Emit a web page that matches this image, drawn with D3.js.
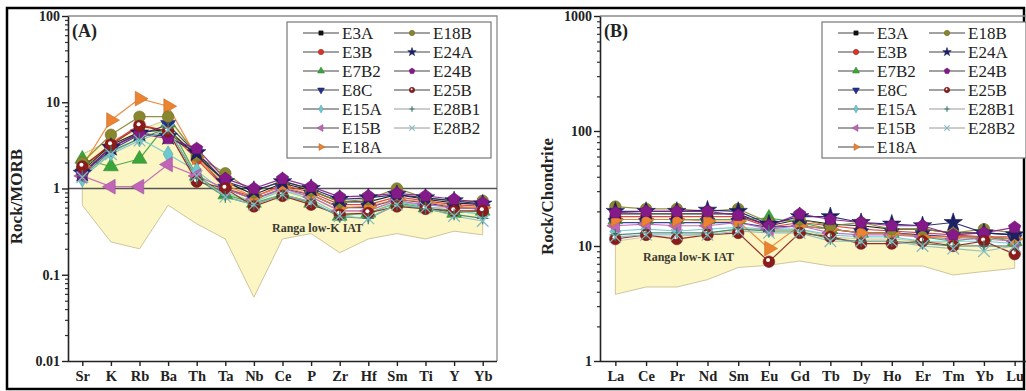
<!DOCTYPE html>
<html>
<head>
<meta charset="utf-8">
<script src="https://cdn.jsdelivr.net/npm/d3@7"></script>
<style>
body { margin: 0; background: #fff; }
svg { display: block; }
text { font-family: "Liberation Serif", "Times New Roman", serif; }
</style>
</head>
<body>
<script>
// element lists
const elemA = ["Sr", "K", "Rb", "Ba", "Th", "Ta", "Nb", "Ce", "P", "Zr", "Hf", "Sm", "Ti", "Y", "Yb"]
const elemB = ["La", "Ce", "Pr", "Nd", "Sm", "Eu", "Gd", "Tb", "Dy", "Ho", "Er", "Tm", "Yb", "Lu"]

const samples = ["E3A", "E3B", "E7B2", "E8C", "E15A", "E15B", "E18A", "E18B", "E24A", "E24B", "E25B", "E28B1", "E28B2"]

// Rock/MORB values (one array per sample, order of elemA)
const morbE3A   = [1.6, 3.2, 4.5, 4.8, 2.4, 1.2, 0.85, 1.15, 0.95, 0.7, 0.7, 0.85, 0.75, 0.68, 0.65]
const morbE3B   = [1.7, 3.3, 5.5, 4.6, 2.2, 1.0, 0.8, 1.1, 0.9, 0.65, 0.65, 0.8, 0.72, 0.65, 0.62]
const morbE7B2  = [2.2, 1.8, 2.2, 5.8, 1.4, 0.85, 0.68, 0.85, 0.68, 0.48, 0.52, 0.68, 0.6, 0.52, 0.55]
const morbE8C   = [1.5, 2.8, 4.2, 5.5, 2.5, 1.0, 0.75, 1.0, 0.85, 0.6, 0.6, 0.75, 0.68, 0.6, 0.58]
const morbE15A  = [1.3, 2.6, 3.8, 2.5, 1.6, 0.9, 0.7, 0.95, 0.75, 0.5, 0.5, 0.7, 0.62, 0.55, 0.5]
const morbE15B  = [1.4, 1.05, 1.05, 1.9, 1.4, 1.0, 0.75, 1.0, 0.8, 0.55, 0.55, 0.72, 0.65, 0.6, 0.58]
const morbE18A  = [1.8, 6.2, 11, 9.0, 2.3, 1.1, 0.8, 1.05, 0.85, 0.6, 0.62, 0.75, 0.7, 0.62, 0.6]
const morbE18B  = [2.0, 4.2, 6.8, 6.8, 2.4, 1.5, 0.9, 1.25, 0.95, 0.7, 0.75, 1.0, 0.78, 0.72, 0.72]
const morbE24A  = [1.5, 3.0, 4.4, 4.0, 2.6, 1.2, 0.95, 1.2, 1.0, 0.75, 0.78, 0.85, 0.78, 0.72, 0.66]
const morbE24B  = [1.45, 3.0, 4.3, 3.8, 2.9, 1.3, 1.0, 1.3, 1.05, 0.8, 0.82, 0.88, 0.82, 0.75, 0.68]
const morbE25B  = [1.8, 3.2, 5.3, 4.6, 1.2, 1.0, 0.62, 0.82, 0.65, 0.5, 0.52, 0.62, 0.58, 0.55, 0.55]
const morbE28B1 = [1.4, 2.7, 3.8, 5.0, 1.3, 0.8, 0.65, 0.85, 0.7, 0.47, 0.45, 0.65, 0.58, 0.5, 0.45]
const morbE28B2 = [1.35, 2.5, 3.6, 4.8, 1.4, 0.8, 0.65, 0.85, 0.7, 0.48, 0.45, 0.65, 0.6, 0.48, 0.42]

// Rock/Chondrite values (order of elemB)
const chonE3A   = [19, 19, 19, 19, 19, 15, 17, 15.5, 15, 14, 14, 13, 13, 12.5]
const chonE3B   = [18, 18, 18, 18, 18, 14.5, 16, 15, 14, 13.5, 13, 12.5, 12, 12]
const chonE7B2  = [17, 17, 17, 17, 17, 17.5, 16, 14, 13, 13, 12, 11, 12, 11]
const chonE8C   = [16, 16, 16, 16, 16, 14.5, 15, 14, 13, 13, 12.5, 12, 12, 11.5]
const chonE15A  = [13.5, 14, 13.5, 14, 14.5, 14, 14, 12.5, 12, 12, 11, 11, 11, 10.5]
const chonE15B  = [15, 15.5, 15, 15, 16, 14, 15, 13, 12.5, 12.5, 12, 11.5, 11.5, 11]
const chonE18A  = [17, 17, 17, 16.5, 16.5, 9.5, 15, 14, 13, 13, 12, 12, 12, 11.5]
const chonE18B  = [22, 21, 21, 20, 21, 16, 17, 15, 16, 14, 14, 13, 14, 13]
const chonE24A  = [20, 20, 20, 20.5, 20, 15.5, 18, 18, 16, 15.5, 15, 16, 13, 12.5]
const chonE24B  = [19.5, 20, 20, 20, 18.5, 15, 19, 17, 16, 15, 15, 12.5, 13, 14.5]
const chonE25B  = [11.5, 12.5, 11.5, 12.5, 13, 7.3, 13, 12, 10.5, 10.5, 11, 10, 11, 8.5]
const chonE28B1 = [12.5, 13, 13, 13, 14, 13.5, 13.5, 11.5, 11, 11, 10.5, 10, 10, 10]
const chonE28B2 = [12, 12.5, 12.5, 12.5, 13.5, 13, 13, 11, 11, 11, 10, 9.5, 9, 10]

// Ranga low-K IAT field (upper / lower edges)
const fieldAHi = [2.5, 3.6, 4.8, 6.3, 2.6, 1.3, 0.75, 0.95, 0.8, 0.55, 0.55, 0.75, 0.6, 0.6, 0.6]
const fieldALo = [0.64, 0.24, 0.2, 0.64, 0.39, 0.26, 0.055, 0.26, 0.3, 0.18, 0.26, 0.3, 0.26, 0.32, 0.29]
const fieldBHi = [11, 12, 12, 13, 14, 14, 14, 12, 11.5, 11.5, 11, 10.5, 10, 10]
const fieldBLo = [3.8, 4.4, 4.4, 5.1, 6.5, 6.8, 7.4, 6.7, 6.7, 6.7, 6.7, 5.6, 6.0, 6.4]

const ticksA = [0.01, 0.1, 1, 10, 100]
const ticksB = [1, 10, 100, 1000]

const morb = [morbE3A, morbE3B, morbE7B2, morbE8C, morbE15A, morbE15B, morbE18A, morbE18B, morbE24A, morbE24B, morbE25B, morbE28B1, morbE28B2]
const chon = [chonE3A, chonE3B, chonE7B2, chonE8C, chonE15A, chonE15B, chonE18A, chonE18B, chonE24A, chonE24B, chonE25B, chonE28B1, chonE28B2]

const colors = ["#111111", "#d9342b", "#3aa63a", "#23308a", "#6cc9cf", "#c065b8", "#ec8330",
                "#88862e", "#1b1f66", "#84198a", "#8a1c1c", "#3f7f68", "#86b9c2"]
const shapes = ["square", "circle", "tri", "triDown", "diamond", "triLeft", "triRight",
                "circle", "star", "pent", "ball", "plus", "cross"]

const W = 1026, H = 391
const serif = "'Liberation Serif', 'Times New Roman', serif"

const svg = d3.select("body").append("svg")
    .attr("width", W)
    .attr("height", H)

// outer black frame
svg.append("rect")
    .attr("x", 7).attr("y", 8)
    .attr("width", 1017).attr("height", 381)
    .attr("fill", "none")
    .attr("stroke", "#000")
    .attr("stroke-width", 2.5)

function markerPath(shape, area) {
    const r = Math.sqrt(area / Math.PI)
    if (shape === "square") return d3.symbol(d3.symbolSquare, area * 0.8)()
    if (shape === "circle" || shape === "ball") return d3.symbol(d3.symbolCircle, area)()
    if (shape.startsWith("tri")) return d3.symbol(d3.symbolTriangle, area * 0.9)()
    if (shape === "diamond") return d3.symbol(d3.symbolDiamond, area * 0.8)()
    if (shape === "star") return d3.symbol(d3.symbolStar, area)()
    if (shape === "pent") {
        const rr = r * 1.12
        let p = ""
        for (let k = 0; k < 5; k++) {
            const a = -Math.PI / 2 + k * 2 * Math.PI / 5
            p += (k ? "L" : "M") + (rr * Math.cos(a)).toFixed(2) + "," + (rr * Math.sin(a)).toFixed(2)
        }
        return p + "Z"
    }
    if (shape === "plus") return "M" + (-r) + ",0H" + r + "M0," + (-r) + "V" + r
    if (shape === "cross") return "M" + (-r) + "," + (-r) + "L" + r + "," + r + "M" + (-r) + "," + r + "L" + r + "," + (-r)
    return d3.symbol(d3.symbolCircle, area)()
}

function rotOf(shape) {
    if (shape === "triDown") return 180
    if (shape === "triLeft") return -90
    if (shape === "triRight") return 90
    return 0
}

function drawMarker(g, shape, color, x, y, area) {
    const open = shape === "plus" || shape === "cross"
    g.append("path")
        .attr("d", markerPath(shape, area))
        .attr("transform", "translate(" + x + "," + y + ") rotate(" + rotOf(shape) + ")")
        .attr("fill", open ? "none" : color)
        .attr("stroke", open ? color : d3.color(color).darker(0.6))
        .attr("stroke-width", open ? 1.2 : 0.6)
    if (shape === "ball") {
        const r = Math.sqrt(area / Math.PI)
        g.append("circle")
            .attr("cx", x - r * 0.15).attr("cy", y - r * 0.3)
            .attr("r", r * 0.35)
            .attr("fill", "#fff")
    }
}

function drawPanel(cfg) {
    const g = svg.append("g")
    const x = d3.scalePoint().domain(cfg.elems).range([cfg.left, cfg.right]).padding(0.5)
    const y = d3.scaleLog().domain(cfg.yDomain).range([cfg.bottom, cfg.top])

    const clipId = "clip" + cfg.tag
    svg.append("clipPath").attr("id", clipId)
        .append("rect")
        .attr("x", cfg.left).attr("y", cfg.top)
        .attr("width", Math.min(cfg.right, W) - cfg.left)
        .attr("height", cfg.bottom - cfg.top)

    // field
    const fieldPts = cfg.elems.map((e, i) => [x(e), y(cfg.fieldHi[i])])
        .concat(cfg.elems.map((e, i) => [x(e), y(cfg.fieldLo[i])]).reverse())
    g.append("path")
        .attr("d", "M" + fieldPts.map(p => p.join(",")).join("L") + "Z")
        .attr("fill", "#fcf5c4")
        .attr("stroke", "#c9bf93")
        .attr("stroke-width", 0.9)

    g.append("text")
        .attr("x", cfg.fieldLabel[0]).attr("y", cfg.fieldLabel[1])
        .attr("font-size", 12)
        .attr("font-weight", "bold")
        .attr("fill", "#3a3a30")
        .text("Ranga low-K IAT")

    // frame top / right
    g.append("path")
        .attr("d", "M" + cfg.left + "," + cfg.top + "H" + cfg.right + "V" + cfg.bottom)
        .attr("fill", "none")
        .attr("stroke", "#8c8c8c")
        .attr("stroke-width", 1.3)

    if (cfg.refLine) {
        g.append("line")
            .attr("x1", cfg.left).attr("x2", cfg.right)
            .attr("y1", y(cfg.refLine)).attr("y2", y(cfg.refLine))
            .attr("stroke", "#555")
            .attr("stroke-width", 1.5)
    }

    // series
    const line = d3.line().x((d, i) => x(cfg.elems[i])).y(d => y(d))
    const sg = g.append("g").attr("clip-path", "url(#" + clipId + ")")
    cfg.data.forEach((vals, s) => {
        sg.append("path")
            .attr("d", line(vals))
            .attr("fill", "none")
            .attr("stroke", colors[s])
            .attr("stroke-width", 1.2)
            .attr("opacity", 0.9)
    })
    cfg.data.forEach((vals, s) => {
        vals.forEach((v, i) => drawMarker(sg, shapes[s], colors[s], x(cfg.elems[i]), y(v), 105))
    })

    // axes
    const minors = []
    const lo = Math.log10(cfg.yDomain[0]), hi = Math.log10(cfg.yDomain[1])
    for (let p = lo; p < hi; p++) {
        for (let m = 2; m <= 9; m++) minors.push(m * Math.pow(10, p))
    }
    g.append("g")
        .attr("transform", "translate(" + cfg.left + ",0)")
        .call(d3.axisLeft(y).tickValues(minors).tickSize(3).tickFormat("").tickSizeOuter(0))
        .call(a => a.select(".domain").remove())
        .call(a => a.selectAll("line").attr("stroke", "#333").attr("stroke-width", 1.2))
    g.append("g")
        .attr("transform", "translate(" + cfg.left + ",0)")
        .call(d3.axisLeft(y).tickValues(cfg.ticks).tickSize(6).tickSizeOuter(0)
            .tickFormat(d => String(d)))
        .call(a => a.attr("font-family", serif))
        .call(a => a.select(".domain").attr("stroke", "#222").attr("stroke-width", 1.6))
        .call(a => a.selectAll("line").attr("stroke", "#222").attr("stroke-width", 1.4))
        .call(a => a.selectAll("text")
            .attr("font-size", 14).attr("font-weight", "bold").attr("fill", "#222")
            .attr("x", -8))

    g.append("g")
        .attr("transform", "translate(0," + cfg.bottom + ")")
        .call(d3.axisBottom(x).tickSize(5).tickSizeOuter(0))
        .call(a => a.attr("font-family", serif))
        .call(a => a.select(".domain").attr("stroke", "#222").attr("stroke-width", 1.6)
            .attr("d", "M" + cfg.left + ",0.5H" + Math.min(cfg.right, W)))
        .call(a => a.selectAll("line").attr("stroke", "#222").attr("stroke-width", 1.4))
        .call(a => a.selectAll("text")
            .attr("font-size", 14.5).attr("font-weight", "bold").attr("fill", "#222")
            .attr("y", 10))

    // titles
    g.append("text")
        .attr("transform", "translate(" + cfg.yTitleX + "," + ((cfg.top + cfg.bottom) / 2 + 8) + ") rotate(-90)")
        .attr("text-anchor", "middle")
        .attr("font-size", 17)
        .attr("font-weight", "bold")
        .attr("fill", "#222")
        .text(cfg.yTitle)

    g.append("text")
        .attr("x", cfg.left + 4).attr("y", cfg.top + 21)
        .attr("font-size", 18)
        .attr("font-weight", "bold")
        .attr("fill", "#222")
        .text(cfg.label)

    // legend
    const lg = g.append("g").attr("transform", "translate(" + cfg.legend[0] + "," + cfg.legend[1] + ")")
    lg.append("rect")
        .attr("width", 204).attr("height", 136)
        .attr("fill", "#fff")
        .attr("stroke", "#777")
        .attr("stroke-width", 1.2)
    samples.forEach((name, s) => {
        const col = s < 7 ? 0 : 1
        const row = s % 7
        const lx = 16 + col * 91
        const ly = 11 + row * 19
        lg.append("line")
            .attr("x1", lx).attr("x2", lx + 36)
            .attr("y1", ly).attr("y2", ly)
            .attr("stroke", s >= 11 ? "#9a9a9a" : "#444")
            .attr("stroke-width", 1)
        drawMarker(lg, shapes[s], colors[s], lx + 18, ly, 22)
        lg.append("text")
            .attr("x", lx + 39).attr("y", ly + 5.5)
            .attr("font-size", 17)
            .attr("fill", "#222")
            .text(name)
    })
}

drawPanel({
    tag: "A", elems: elemA, data: morb,
    fieldHi: fieldAHi, fieldLo: fieldALo,
    yDomain: [0.01, 100], ticks: ticksA,
    left: 68, right: 497, top: 16, bottom: 361,
    refLine: 1,
    yTitle: "Rock/MORB", yTitleX: 22, label: "(A)",
    legend: [287, 22], fieldLabel: [272, 232]
})

drawPanel({
    tag: "B", elems: elemB, data: chon,
    fieldHi: fieldBHi, fieldLo: fieldBLo,
    yDomain: [1, 1000], ticks: ticksB,
    left: 600, right: 1030, top: 16, bottom: 361,
    refLine: null,
    yTitle: "Rock/Chondrite", yTitleX: 553, label: "(B)",
    legend: [822, 22], fieldLabel: [643, 261]
})
</script>
</body>
</html>
